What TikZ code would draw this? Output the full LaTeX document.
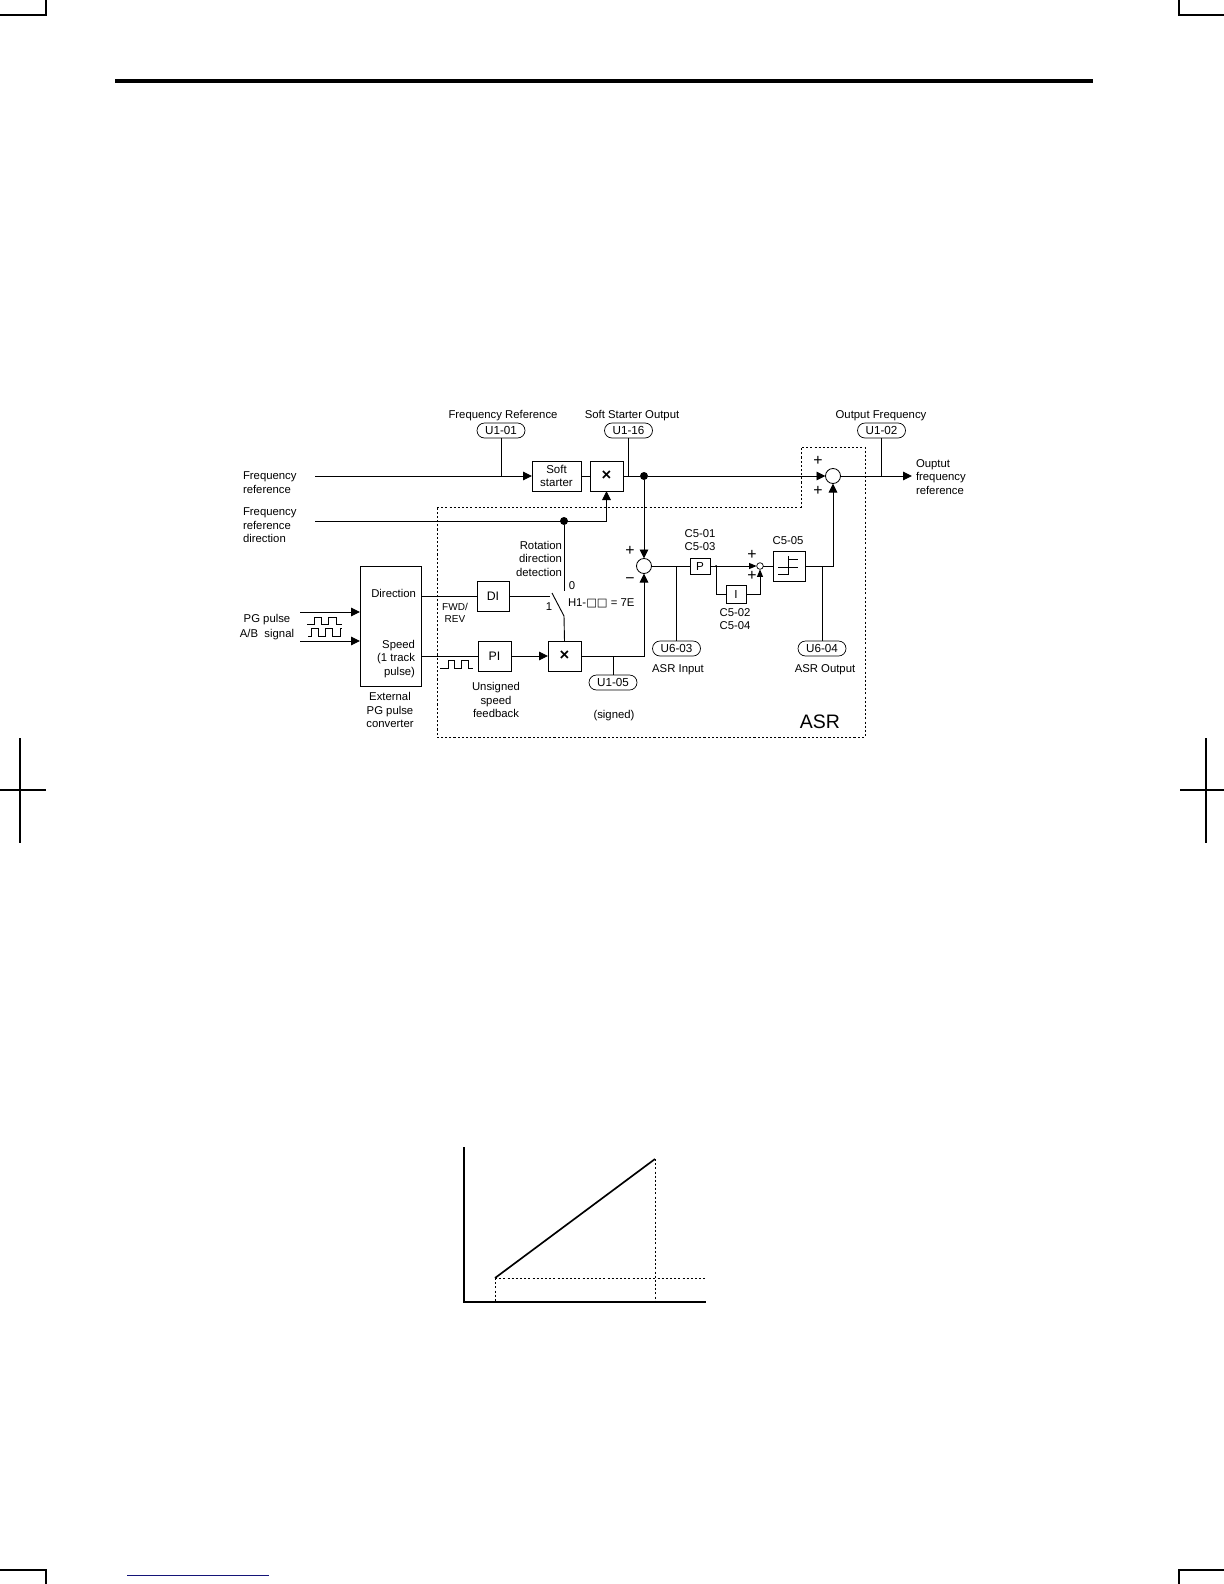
\documentclass[tikz,border=0pt]{standalone}
\usepackage{fontspec}
\setmainfont{Liberation Sans}
\newfontfamily\djv{DejaVu Sans}
\usetikzlibrary{arrows.meta}
\def\u{0.6pt}
\tikzset{
  every node/.style={inner sep=0pt,outer sep=0pt},
  >={Triangle[length=5.4pt,width=5.2pt]},
  wire/.style={line width=0.55pt,line join=miter},
  smallarrow/.style={-{Triangle[length=4.6pt,width=3.6pt]}},
  blockbox/.style={draw,line width=0.55pt,align=center,font=\fontsize{6.9}{8}\selectfont},
  pill/.style={draw,line width=0.42pt,rounded corners=4.5pt,minimum width=48*\u,minimum height=15*\u,font=\fontsize{7}{8}\selectfont},
  sumcircle/.style={circle,draw,line width=0.5pt,minimum size=15*\u},
  smallsum/.style={circle,draw,line width=0.42pt,minimum size=6.6*\u},
  dotj/.style={circle,fill=black,minimum size=8*\u},
  tinyj/.style={circle,fill=black,minimum size=2*\u},
  lab/.style={align=center,yshift=-0.15pt,font=\fontsize{6.8}{8.1}\selectfont},
  labl/.style={align=left,yshift=-0.15pt,font=\fontsize{6.8}{8.1}\selectfont},
  labr/.style={align=right,yshift=-0.15pt,font=\fontsize{6.8}{8.1}\selectfont},
  labs/.style={align=center,yshift=-0.6pt,font=\fontsize{6}{7.2}\selectfont},
  signl/.style={yshift=-0.5pt,font=\fontsize{9.5}{9.5}\selectfont},
  timesg/.style={font=\fontsize{10}{10}\selectfont\bfseries},
  markline/.style={line width=0.85pt},
  dotline/.style={line width=0.5pt,dash pattern=on 1.25pt off 1.25pt},
}
\begin{document}
\begin{tikzpicture}[x=0.6pt,y=-0.6pt]
\useasboundingbox (0,0) rectangle (1224,1584);
% page furniture
\draw[markline] (0,15) -- (46,15) -- (46,0);
\draw[markline] (1224,15) -- (1179,15) -- (1179,0);
\draw[markline] (0,1570) -- (46,1570) -- (46,1584);
\draw[markline] (1224,1570) -- (1179,1570) -- (1179,1584);
\draw[markline] (20,738) -- (20,843);
\draw[markline] (0,790) -- (46,790);
\draw[markline] (1206,738) -- (1206,843);
\draw[markline] (1180,790) -- (1224,790);
\fill (115,79) rectangle (1093,83);
\draw[line width=0.6pt,color={rgb,255:red,20;green,20;blue,120}] (127,1575) -- (269,1575);
% ASR dotted frame
\draw[dotline] (437,507) -- (801,507) -- (801,447) -- (865,447) -- (865,737) -- (437,737) -- cycle;
% blocks
\node[blockbox,minimum width=49*\u,minimum height=30*\u] (soft) at (556.5,476) {Soft\\starter};
\node[blockbox,minimum width=33*\u,minimum height=30*\u,timesg] (mulA) at (606.5,476) {×};
\node[sumcircle] (sumT) at (833,476) {};
\node[sumcircle] (sumM) at (644,566) {};
\node[smallsum] (sumS) at (760,566) {};
\node[blockbox,minimum width=61*\u,minimum height=120*\u] (conv) at (390.5,626) {};
\node[blockbox,minimum width=32*\u,minimum height=30*\u,font=\fontsize{7.4}{8}\selectfont] (di) at (493,596) {DI};
\node[blockbox,minimum width=33*\u,minimum height=30*\u,font=\fontsize{7.4}{8}\selectfont] (pi) at (494.5,656) {PI};
\node[blockbox,minimum width=33*\u,minimum height=30*\u,timesg] (mulB) at (564.5,656) {×};
\node[blockbox,minimum width=20*\u,minimum height=16*\u,font=\fontsize{7}{8}\selectfont] (pb) at (700,566) {P};
\node[blockbox,minimum width=20*\u,minimum height=18*\u,font=\fontsize{7}{8}\selectfont] (ib) at (736,594) {I};
\node[blockbox,minimum width=32*\u,minimum height=30*\u] (lim) at (789,566) {};
\draw[wire] (788,556) -- (788,575) (788,559) -- (798,559) (778,567) -- (798,567) (778,574) -- (788,574);
% pills
\node[pill] (p101) at (501,430.5) {U1-01};
\node[pill] (p116) at (628.5,430.5) {U1-16};
\node[pill] (p102) at (881.5,430.5) {U1-02};
\node[pill] (p105) at (613,682.5) {U1-05};
\node[pill] (p603) at (676.5,648.5) {U6-03};
\node[pill] (p604) at (822,648.5) {U6-04};
% junctions
\node[dotj] (dotA) at (644,476) {};
\node[dotj] (dotB) at (564,521) {};
\node[tinyj] (tinyP) at (716,566) {};
% free ends
\coordinate (inA) at (315,476);
\coordinate (inB) at (315,521);
\coordinate (pgA) at (300,612);
\coordinate (pgB) at (300,641);
\coordinate (outF) at (912,476);
\coordinate (sw0) at (564,591);
\coordinate (sw1in) at (550,596);
\coordinate (sw1) at (552,593);
\coordinate (swp) at (564,616);
% connectors
\draw[wire,->] (inA) -- (soft.west);
\draw[wire] (p101.south) -- (p101.south |- inA);
\draw[wire] (soft.east) -- (mulA.west);
\draw[wire] (mulA.east) -- (dotA.west);
\draw[wire] (p116.south) -- (p116.south |- mulA.east);
\draw[wire,->] (dotA.east) -- (sumT.west);
\draw[wire,->] (sumT.east) -- (outF);
\draw[wire] (p102.south) -- (p102.south |- outF);
\draw[wire,->] (inB) -- (mulA.south |- inB) -- (mulA.south);
\draw[wire] (dotB.south) -- (sw0);
\draw[wire] (sw1) -- (swp) -- (mulB.north);
\draw[wire] (di.east) -- (sw1in);
\draw[wire] (conv.east |- di.west) -- (di.west);
\draw[wire] (conv.east |- pi.west) -- (pi.west);
\draw[wire,->] (pi.east) -- (mulB.west);
\draw[wire,->] (mulB.east) -- (sumM.south |- mulB.east) -- (sumM.south);
\draw[wire] (p105.north |- mulB.east) -- (p105.north);
\draw[wire,->] (dotA.south) -- (sumM.north);
\draw[wire] (sumM.east) -- (pb.west);
\draw[wire] (p603.north |- sumM.east) -- (p603.north);
\draw[wire,smallarrow] (pb.east) -- (sumS.west);
\draw[wire] (tinyP.south) |- (ib.west);
\draw[wire,smallarrow] (ib.east) -| (sumS.south);
\draw[wire] (sumS.east) -- (lim.west);
\draw[wire,->] (lim.east) -| (sumT.south);
\draw[wire] (p604.north |- lim.east) -- (p604.north);
\draw[wire,->] (pgA) -- (conv.west |- pgA);
\draw[wire,->] (pgB) -- (conv.west |- pgB);
% pulse shapes
\draw[wire] (307,624) -- (314,624) -- (314,617) -- (321,617) -- (321,624) -- (328,624) -- (328,617) -- (336,617) -- (336,624) -- (342,624);
\draw[wire] (308,636) -- (311,636) -- (311,628) -- (318,628) -- (318,636) -- (325,636) -- (325,628) -- (332,628) -- (332,636) -- (340,636) -- (340,628) -- (342,628);
\draw[wire] (440,668) -- (448,668) -- (448,660) -- (454,660) -- (454,668) -- (461,668) -- (461,660) -- (468,660) -- (468,668) -- (473,668);
% chart
\draw[line width=0.7pt] (464,1147) -- (464,1302) -- (706,1302);
\draw[line width=1pt] (495,1278) -- (655,1159);
\draw[dotline] (655,1159) -- (655,1302);
\draw[dotline] (495,1278) -- (495,1302);
\draw[dotline] (495,1278) -- (706,1278);
% labels
\node[lab] (tFR) at (503,415) {Frequency Reference};
\node[lab] (tSS) at (632,415) {Soft Starter Output};
\node[lab] (tOF) at (881,415) {Output Frequency};
\node[labl,anchor=west] (tIn1) at (243,482.5) {Frequency\\reference};
\node[labl,anchor=west] (tIn2) at (243,525) {Frequency\\reference\\direction};
\node[labr,anchor=east] (tRot) at (562,558.5) {Rotation\\direction\\detection};
\node[lab] (t0) at (572,585) {0};
\node[lab] (t1) at (549,606) {1};
\node[labl,anchor=west] (tH1) at (568,603) {H1-{\djv □□} = 7E};
\node[labr,anchor=east] (tDir) at (416,593.5) {Direction};
\node[labr,anchor=east] (tSpd) at (415,658.5) {Speed\\(1 track\\pulse)};
\node[lab] (tExt) at (390,710) {External\\PG pulse\\converter};
\node[lab] (tPG1) at (267,619) {PG pulse};
\node[lab] (tPG2) at (267,634) {A/B\ \ signal};
\node[labs] (tFwd) at (455,612) {FWD/\\REV};
\node[lab] (tUns) at (496,700) {Unsigned\\speed\\feedback};
\node[lab] (tSig) at (614,715) {(signed)};
\node[signl] (sp1) at (630,550) {+};
\node[signl] (sm1) at (630,580) {−};
\node[signl] (sp2) at (818,460) {+};
\node[signl] (sp3) at (818,490) {+};
\node[signl] (sp4) at (752,554.5) {+};
\node[signl] (sp5) at (752,575.5) {+};
\node[lab] (tC1) at (700,540) {C5-01\\C5-03};
\node[lab] (tC2) at (735,619) {C5-02\\C5-04};
\node[lab] (tC5) at (788,540) {C5-05};
\node[lab] (tAI) at (678,669) {ASR Input};
\node[lab] (tAO) at (825,669) {ASR Output};
\node[font=\fontsize{11.7}{12}\selectfont] (tASR) at (820,722) {ASR};
\node[labl,anchor=west] (tOut) at (916,476.5) {Ouptut\\frequency\\reference};
\end{tikzpicture}
\end{document}
